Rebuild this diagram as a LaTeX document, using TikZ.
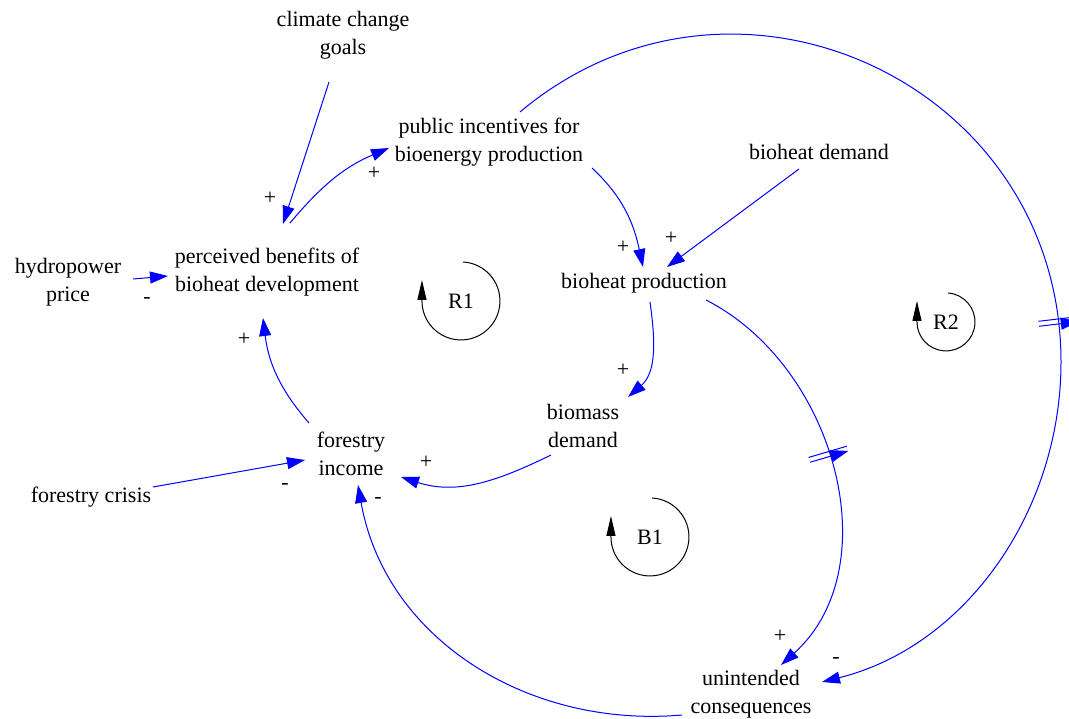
\documentclass[tikz,border=0pt]{standalone}
\usepackage{fontspec}
\setmainfont{Liberation Serif}
\usetikzlibrary{arrows.meta,decorations.markings}
\begin{document}
\begin{tikzpicture}[x=1pt,y=-1pt,
  var/.style={font=\fontsize{22}{28}\selectfont, align=center, inner sep=0pt},
  sgn/.style={font=\fontsize{22}{26}\selectfont, inner sep=0pt},
  lnk/.style={blue, line width=1pt, -{Triangle[length=18pt,width=12pt]}},
  loopc/.style={black, line width=1pt, -{Triangle[length=20pt,width=9pt]}},
  delaymark/.style={postaction={decorate, decoration={markings, mark=at position #1 with {\draw[blue,line width=1pt] (-2.5pt,-20pt)--(-2.5pt,20pt) (2.5pt,-20pt)--(2.5pt,20pt);}}}}
]
\useasboundingbox (0,0) rectangle (1069,719);

% variables
\node[var] (climate) at (343,35) {climate change\\goals};
\node[var] (pub) at (489,142) {public incentives for\\bioenergy production};
\node[var] (bdem) at (819,152) {bioheat demand};
\node[var] (perc) at (267,272) {perceived benefits of\\bioheat development};
\node[var] (hydro) at (68,282) {hydropower\\price};
\node[var] (bprod) at (644,283) {bioheat production};
\node[var] (biom) at (583,426) {biomass\\demand};
\node[var] (forinc) at (351,454) {forestry\\income};
\node[var] (fcrisis) at (91,497) {forestry crisis};
\node[var] (unint) at (751,694) {unintended\\consequences};

% loop markers
\node[var] (R1) at (461,301) {R1};
\draw[loopc] ([shift={(2,-39)}]R1.center) arc[start angle=-87, end angle=180, radius=39] -- ++(0,-21);
\node[var] (B1) at (650,537) {B1};
\draw[loopc] ([shift={(2,-39)}]B1.center) arc[start angle=-87, end angle=180, radius=39] -- ++(0,-21);
\node[var] (R2) at (946,322) {R2};
\draw[loopc] ([shift={(2,-29)}]R2.center) arc[start angle=-86, end angle=180, radius=29] -- ++(0,-21);

% links
\draw[lnk] ([shift={(-14,47)}]climate.center) -- ([shift={(16,-48)}]perc.center);
\draw[lnk] ([shift={(23,-49)}]perc.center) to[out=50,in=-157] ([shift={(-100,6)}]pub.center);
\draw[lnk] ([shift={(103,26)}]pub.center) to[out=-43,in=102] ([shift={(-1,-16)}]bprod.center);
\draw[lnk] ([shift={(-20,17)}]bdem.center) -- ([shift={(23,-16)}]bprod.center);
\draw[lnk] ([shift={(65,-3)}]hydro.center) -- ([shift={(-99,4)}]perc.center);
\draw[lnk] ([shift={(-42,-31)}]forinc.center) to[out=131,in=-83] ([shift={(-4,46)}]perc.center);
\draw[lnk] ([shift={(6,19)}]bprod.center) to[out=-82,in=41] ([shift={(45,-29)}]biom.center);
\draw[lnk] ([shift={(-32,29)}]biom.center) to[out=-154,in=-18] ([shift={(50,23)}]forinc.center);
\draw[lnk] ([shift={(62,-10)}]fcrisis.center) -- ([shift={(-46,6)}]forinc.center);
\draw[lnk, delaymark=0.47] ([shift={(62,17)}]bprod.center) to[out=-27,in=42,looseness=1.0] ([shift={(30,-29)}]unint.center);
\coordinate (r2e) at (1061,362);
\draw[lnk, delaymark=0.6] ([shift={(31,-30)}]pub.center) to[out=40,in=90,looseness=1.2] (r2e) to[out=-90,in=14,looseness=0.95] ([shift={(71,-12)}]unint.center);
\draw[lnk] ([shift={(-69,21)}]unint.center) to[out=185,in=-80] ([shift={(7,31)}]forinc.center);

% polarity signs
\node[sgn] (s1) at (270,198) {+};
\node[sgn] (s2) at (374,173) {+};
\node[sgn] (s3) at (147,300) {-};
\node[sgn] (s4) at (244,339) {+};
\node[sgn] (s5) at (623,247) {+};
\node[sgn] (s6) at (671,238) {+};
\node[sgn] (s7) at (623,370) {+};
\node[sgn] (s8) at (426,462) {+};
\node[sgn] (s9) at (285,486) {-};
\node[sgn] (s10) at (378,500) {-};
\node[sgn] (s11) at (780,636) {+};
\node[sgn] (s12) at (836,660) {-};
\end{tikzpicture}
\end{document}
